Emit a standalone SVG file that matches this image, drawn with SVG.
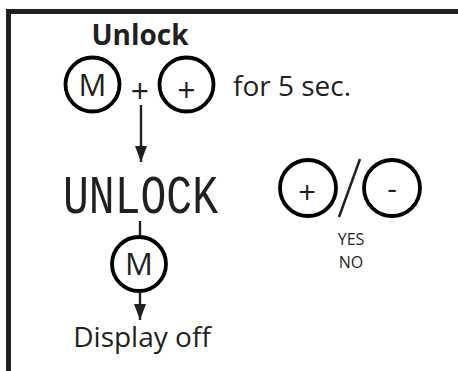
<svg xmlns="http://www.w3.org/2000/svg" width="458" height="371" viewBox="0 0 458 371">
<style>
.t{font-family:"Open Sans","Noto Sans","Liberation Sans",sans-serif;fill:#231f20}
.btn{fill:none;stroke:#000;stroke-width:3.8}
.ln{stroke:#231f20;stroke-width:2.4;fill:none}
</style>
<defs>
<marker id="ah" viewBox="0 0 16 12" refX="16" refY="6" markerWidth="16" markerHeight="12" markerUnits="userSpaceOnUse" orient="auto">
<path d="M0,0 L16,6 L0,12 Z" fill="#231f20"/>
</marker>
</defs>
<rect width="458" height="371" fill="#fff"/>
<path d="M8.5,371 V11.5 H458" fill="none" stroke="#231f20" stroke-width="5"/>
<g id="title"><text class="t" x="140" y="45" font-size="28" font-weight="bold" text-anchor="middle">Unlock</text></g>
<g id="btnM1"><circle class="btn" cx="92.5" cy="84.5" r="27"/><text class="t" x="92.5" y="95.5" font-size="31" text-anchor="middle">M</text></g>
<g id="plusSign"><text class="t" x="140" y="103" font-size="32" text-anchor="middle">+</text></g>
<g id="btnPlus1"><circle class="btn" cx="186.5" cy="84.5" r="27"/><text class="t" x="186.5" y="101.5" font-size="32" text-anchor="middle">+</text></g>
<g id="for5"><text class="t" x="233" y="96" font-size="28">for 5 sec.</text></g>
<g id="lcd"><text x="63" y="213" font-family="Liberation Mono,monospace" font-size="54" fill="#231f20" textLength="155" lengthAdjust="spacingAndGlyphs">UNLOCK</text></g>
<g id="btnM2"><circle class="btn" cx="139" cy="264" r="27"/><text class="t" x="139" y="275" font-size="31" text-anchor="middle">M</text></g>
<g id="display"><text class="t" x="142" y="347" font-size="28" text-anchor="middle">Display off</text></g>
<g id="btnPlus2"><circle class="btn" cx="308" cy="188" r="28"/><text class="t" x="307" y="203.5" font-size="31" text-anchor="middle">+</text></g>
<g id="btnMinus"><circle class="btn" cx="392" cy="188" r="28"/><text class="t" x="392" y="199" font-size="30" text-anchor="middle">-</text></g>
<g id="slash"><line x1="339" y1="217" x2="360" y2="159" stroke="#231f20" stroke-width="2.5"/></g>
<g id="yesno"><text class="t" x="351" y="245" font-size="16" text-anchor="middle">YES</text><text class="t" x="351" y="268" font-size="16" text-anchor="middle">NO</text></g>
<g id="connectors">
<line class="ln" x1="141" y1="105" x2="141" y2="162" marker-end="url(#ah)"/>
<line class="ln" x1="140" y1="221" x2="140" y2="236"/>
<line class="ln" x1="140" y1="292" x2="140" y2="320" marker-end="url(#ah)"/>
</g>
</svg>
